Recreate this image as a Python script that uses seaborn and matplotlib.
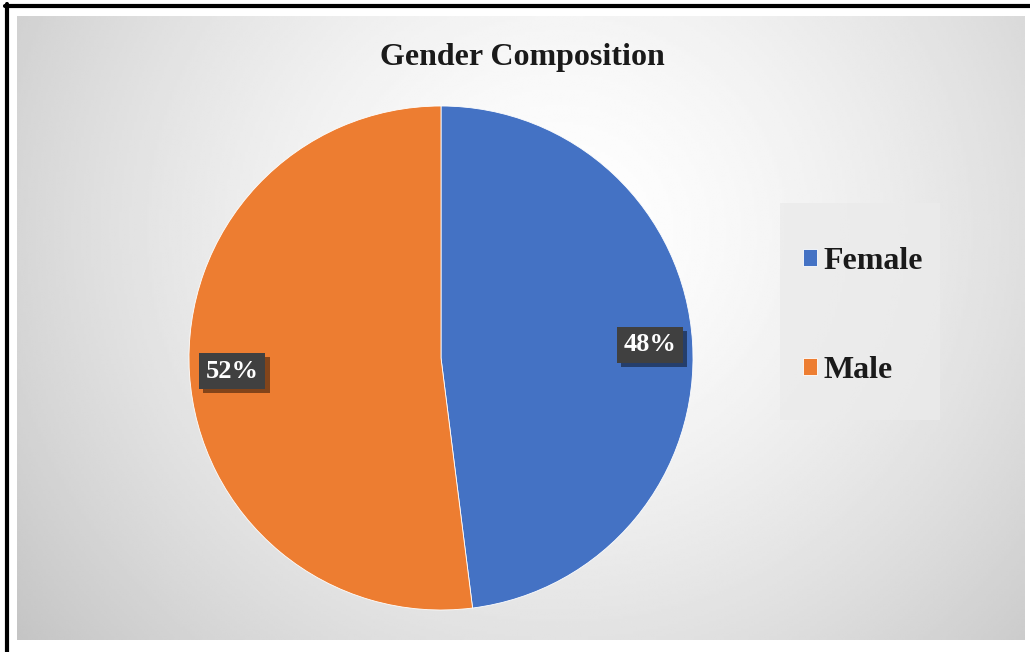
import numpy as np
import matplotlib
matplotlib.use("Agg")
import matplotlib.pyplot as plt
import matplotlib.patheffects as pe
from matplotlib.patches import Rectangle
import seaborn as sns

# ---- data ----
categories = ["Female", "Male"]
shares = [48, 52]
title_text = "Gender Composition"

sns.set_theme(style="white")
plt.rcParams["font.family"] = ["Liberation Serif", "DejaVu Serif"]

palette = ["#4472C4", "#ED7D31"]

W, H = 1030, 652
fig = plt.figure(figsize=(W / 100, H / 100), dpi=100)
fig.patch.set_facecolor("white")

# background gradient panel
bg = fig.add_axes([17 / W, 1 - 640 / H, (1025 - 17) / W, (640 - 16) / H])
bg.set_axis_off()
nx, ny = 400, 250
xs = np.linspace(17, 1025, nx)
ys = np.linspace(16, 640, ny)
X, Y = np.meshgrid(xs, ys)
cx, cy = 560, 230
d = np.sqrt(((X - cx) / 1.0) ** 2 + ((Y - cy) / 0.95) ** 2)
d = d / d.max()
val = 1.0 - 0.23 * np.clip(d, 0, 1) ** 1.5
bg.imshow(val, cmap="gray", vmin=0, vmax=1, aspect="auto",
          extent=[0, 1, 0, 1], origin="upper", interpolation="bilinear")
bg.set_xlim(0, 1)
bg.set_ylim(0, 1)

# outer black border (top/left visible)
fig.add_artist(plt.Line2D([6.5 / W, 6.5 / W], [0, 1 - 4 / H], transform=fig.transFigure,
                          color="black", lw=3))
fig.add_artist(plt.Line2D([5 / W, 1], [1 - 5.5 / H, 1 - 5.5 / H], transform=fig.transFigure,
                          color="black", lw=3))

# pie axes
R = 252
cxp, cyp = 441, 358
M = 262
ax = fig.add_axes([(cxp - M) / W, (H - cyp - M) / H, 2 * M / W, 2 * M / H])
ax.set_axis_off()
wedges, texts, autotexts = ax.pie(
    shares, colors=palette, startangle=90, counterclock=False,
    autopct=lambda p: f"{p:.0f}%", pctdistance=0.83,
    wedgeprops=dict(linewidth=0.6, edgecolor="white"),
    textprops=dict(color="white", fontsize=19, fontweight="bold"),
)
ax.set_xlim(-M / R, M / R)
ax.set_ylim(-M / R, M / R)
ax.set_aspect("equal")
for t in autotexts:
    t.set_bbox(dict(boxstyle="square,pad=0.25", facecolor="#404040", edgecolor="none"))
    t.get_bbox_patch().set_path_effects([
        pe.SimplePatchShadow(offset=(3, -3), shadow_rgbFace="black", alpha=0.45),
        pe.Normal(),
    ])

# title
fig.text(522 / W, 1 - 57 / H, title_text, ha="center", va="center",
         fontsize=23, fontweight="bold", color="#1a1a1a")

# legend panel
fig.add_artist(Rectangle((780 / W, 1 - 420 / H), 160 / W, 217 / H,
                         transform=fig.transFigure, facecolor="#ebebeb",
                         edgecolor="none", alpha=0.8))
leg = fig.legend(wedges, categories, loc="center left",
                 bbox_to_anchor=(774 / W, 1 - 316 / H),
                 frameon=False, handlelength=0.45, handleheight=0.45,
                 handletextpad=0.2, labelspacing=2.5,
                 prop=dict(family="Liberation Serif", weight="bold", size=23))
for t in leg.get_texts():
    t.set_color("#1a1a1a")

fig.savefig("out.png", dpi=100)
